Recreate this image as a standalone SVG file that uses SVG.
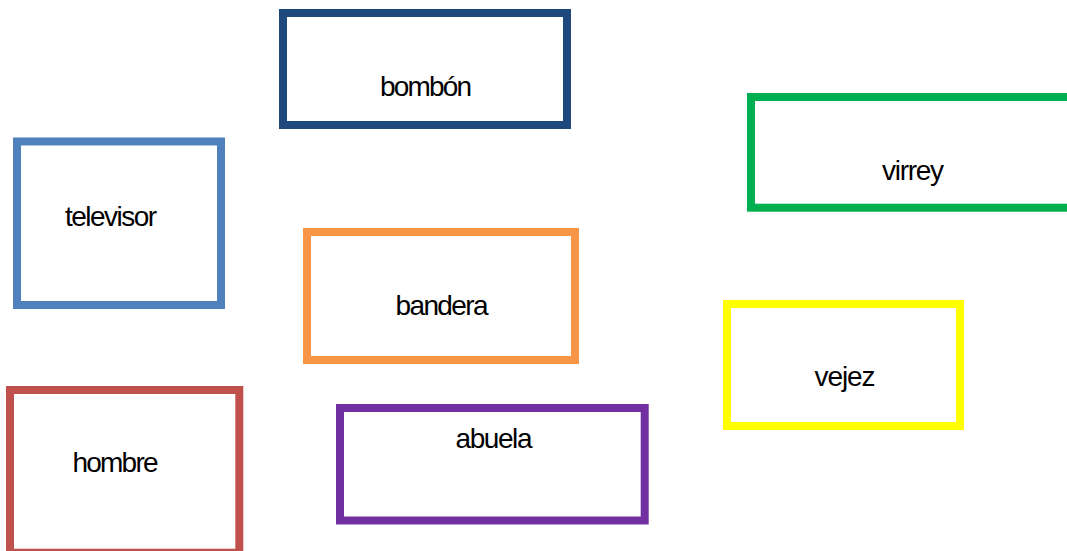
<svg xmlns="http://www.w3.org/2000/svg" width="1067" height="551" viewBox="0 0 1067 551">
<style>
.box{fill:#FFFFFF;stroke-width:8}
.lbl{font-family:"Liberation Sans",Arial,sans-serif;font-size:28px;fill:#000000;text-anchor:middle}
</style>
<rect x="0" y="0" width="1067" height="551" fill="#FFFFFF"/>
<g id="connectors"></g>
<g id="node-bombon">
<rect class="box" x="283" y="13" width="284" height="112" stroke="#1F497D"/>
<text class="lbl" x="426" y="96" textLength="92" lengthAdjust="spacing">bombón</text>
</g>
<g id="node-televisor">
<rect class="box" x="17" y="141.5" width="204" height="163.5" stroke="#4F81BD"/>
<text class="lbl" x="111" y="226" textLength="92" lengthAdjust="spacing">televisor</text>
</g>
<g id="node-virrey">
<rect class="box" x="751" y="97" width="330" height="110.7" stroke="#00B050"/>
<text class="lbl" x="913" y="180" textLength="62" lengthAdjust="spacing">virrey</text>
</g>
<g id="node-bandera">
<rect class="box" x="307" y="232" width="268" height="128" stroke="#F79646"/>
<text class="lbl" x="442" y="315" textLength="93" lengthAdjust="spacing">bandera</text>
</g>
<g id="node-vejez">
<rect class="box" x="727" y="304" width="233" height="122" stroke="#FFFF00"/>
<text class="lbl" x="845" y="386" textLength="61" lengthAdjust="spacing">vejez</text>
</g>
<g id="node-hombre">
<rect class="box" x="10" y="390" width="229.3" height="162.7" stroke="#C0504D"/>
<text class="lbl" x="115.5" y="472" textLength="86" lengthAdjust="spacing">hombre</text>
</g>
<g id="node-abuela">
<rect class="box" x="340" y="408" width="304.7" height="112.5" stroke="#7030A0"/>
<text class="lbl" x="494" y="448" textLength="77" lengthAdjust="spacing">abuela</text>
</g>
</svg>
